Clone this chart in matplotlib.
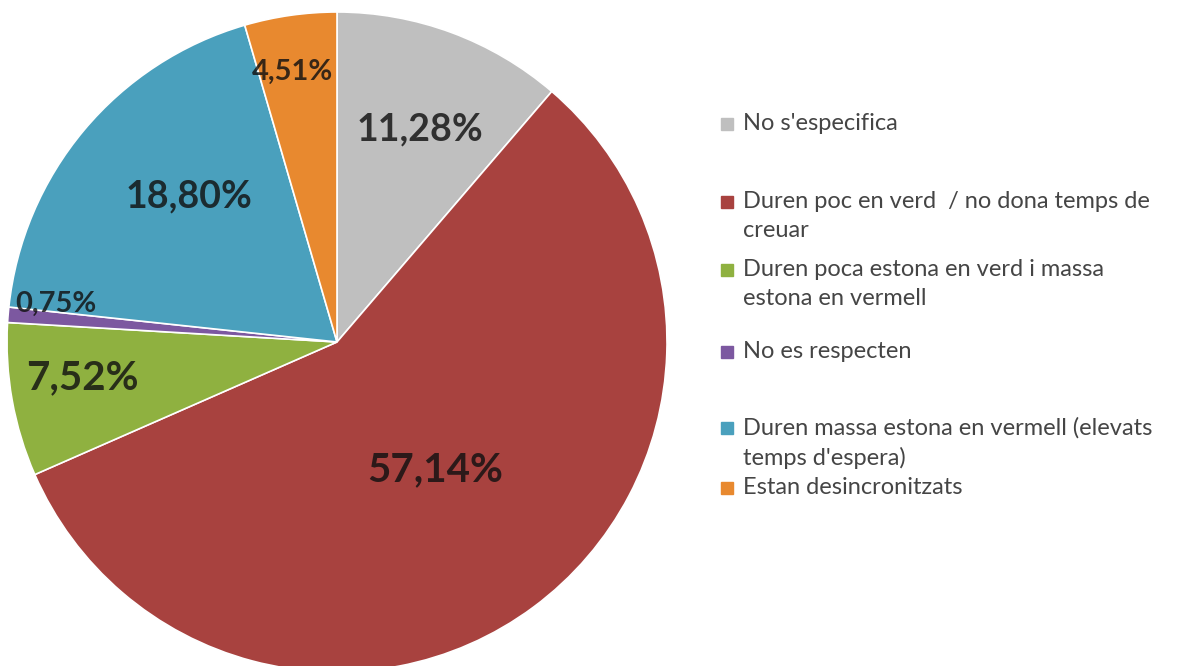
import numpy as np
import matplotlib.pyplot as plt
from matplotlib.patches import Rectangle

# motius de queixa sobre els semàfors (%)
categories = ["No s'especifica",
              "Duren poc en verd  / no dona temps de\ncreuar",
              "Duren poca estona en verd i massa\nestona en vermell",
              "No es respecten",
              "Duren massa estona en vermell (elevats\ntemps d'espera)",
              "Estan desincronitzats"]
values = [11.28, 57.14, 7.52, 0.75, 18.80, 4.51]
labels = ["11,28%", "57,14%", "7,52%", "0,75%", "18,80%", "4,51%"]
colors = ['#bfbfbf', '#a8423f', '#8fb140', '#7c58a0', '#4aa0bd', '#e8892f']

plt.rcParams['font.family'] = ['Lato', 'DejaVu Sans']

fig = plt.figure(figsize=(11.8, 6.66), dpi=100)
ax = fig.add_axes([7/1180, -6/666, 660/1180, 660/666])

wedges, _ = ax.pie(values, colors=colors, startangle=90, counterclock=False,
                   radius=1.0, wedgeprops=dict(edgecolor='white', linewidth=1.2))
ax.set_xlim(-1, 1)
ax.set_ylim(-1, 1)
ax.set_aspect('equal')
ax.axis('off')

# etiquetes dins de cada sector
dist = [0.69, 0.49, 0.78, 0.86, 0.63, 0.83]
shift = [-1.0, 1.0, -2.1, -3.0, -4.5, 1.3]
sizes = [27, 29, 29, 21, 27, 21]
for w, lab, d, s, fs in zip(wedges, labels, dist, shift, sizes):
    ang = np.deg2rad((w.theta1 + w.theta2) / 2 + s)
    ax.text(d * np.cos(ang), d * np.sin(ang), lab, ha='center', va='center',
            fontsize=fs, fontweight='bold', color='#111111', alpha=0.82)

# llegenda
ys = [124, 202, 270, 352, 428, 488]
for lab, c, y in zip(categories, colors, ys):
    fig.patches.append(Rectangle((721/1180, 1 - (y + 6)/666), 12/1180, 12/666,
                                 transform=fig.transFigure, color=c))
    fig.text(743/1180, 1 - (y - 11)/666, lab, ha='left', va='top',
             fontsize=17, color='#454545', linespacing=1.45)

fig.savefig('out.png', dpi=100, facecolor='white')
